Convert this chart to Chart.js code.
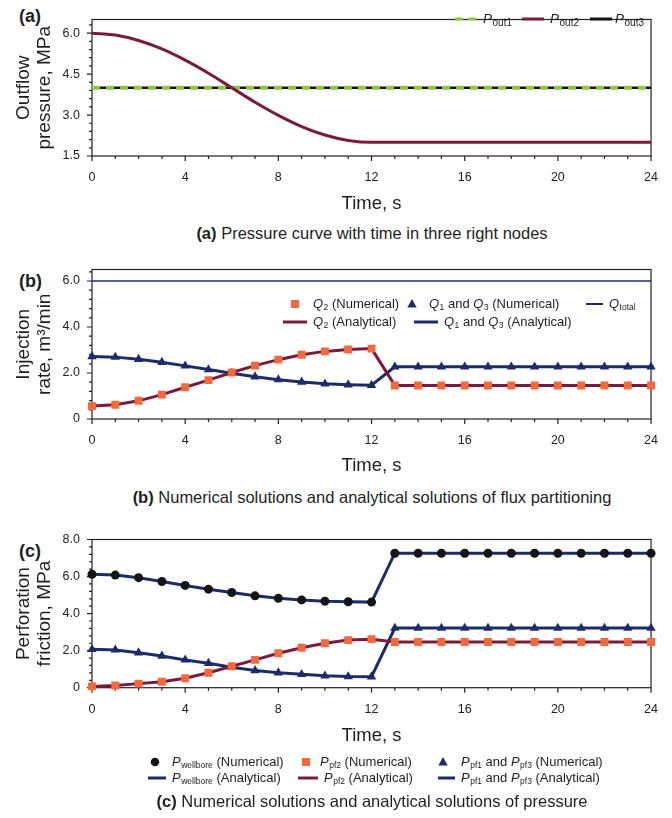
<!DOCTYPE html>
<html>
<head>
<meta charset="utf-8">
<script src="https://cdn.jsdelivr.net/npm/chart.js@4.4.1/dist/chart.umd.min.js"></script>
<style>
  body { margin: 0; background: #fff; }
  #wrap { position: relative; width: 672px; height: 818px; font-family: "Liberation Sans", Arial, sans-serif; color: #1e1e1e; overflow: hidden; }
  canvas { position: absolute; left: 0; }
  .cap { position: absolute; left: 0; width: 744px; text-align: center; font-size: 16.5px; line-height: 20px; white-space: nowrap; }
  .lab { position: absolute; left: 19px; font-size: 18px; font-weight: bold; line-height: 20px; }
</style>
</head>
<body>
<div id="wrap">
  <div class="lab" style="top:6px">(a)</div>
  <div class="lab" style="top:271px">(b)</div>
  <div class="lab" style="top:541px">(c)</div>
  <canvas id="chartA" width="672" height="215" style="top:0px"></canvas>
  <canvas id="chartB" width="672" height="227" style="top:250px"></canvas>
  <canvas id="chartC" width="672" height="287" style="top:520px"></canvas>
  <div class="cap" style="top:223px"><b>(a)</b> Pressure curve with time in three right nodes</div>
  <div class="cap" style="top:487px"><b>(b)</b> Numerical solutions and analytical solutions of flux partitioning</div>
  <div class="cap" style="top:791px"><b>(c)</b> Numerical solutions and analytical solutions of pressure</div>
</div>
<script>
// time axis (s)
const time = [0,1,2,3,4,5,6,7,8,9,10,11,12,13,14,15,16,17,18,19,20,21,22,23,24];

// (a) outflow pressure, MPa
const pOut1 = [4.0,4.0,4.0,4.0,4.0,4.0,4.0,4.0,4.0,4.0,4.0,4.0,4.0,4.0,4.0,4.0,4.0,4.0,4.0,4.0,4.0,4.0,4.0,4.0,4.0];
const pOut2 = [6.00,5.93,5.73,5.42,5.01,4.53,4.00,3.47,2.99,2.58,2.27,2.07,2.00,2.00,2.00,2.00,2.00,2.00,2.00,2.00,2.00,2.00,2.00,2.00,2.00];
const pOut3 = [4.0,4.0,4.0,4.0,4.0,4.0,4.0,4.0,4.0,4.0,4.0,4.0,4.0,4.0,4.0,4.0,4.0,4.0,4.0,4.0,4.0,4.0,4.0,4.0,4.0];

// (b) injection rate, m3/min
const qTotal = [6.0,6.0,6.0,6.0,6.0,6.0,6.0,6.0,6.0,6.0,6.0,6.0,6.0,6.0,6.0,6.0,6.0,6.0,6.0,6.0,6.0,6.0,6.0,6.0,6.0];
const q2 = [0.56,0.62,0.79,1.06,1.38,1.69,2.02,2.32,2.58,2.79,2.94,3.02,3.06,1.46,1.46,1.46,1.46,1.46,1.46,1.46,1.46,1.46,1.46,1.46,1.46];
const q13 = [2.72,2.69,2.60,2.47,2.31,2.15,1.99,1.84,1.71,1.61,1.53,1.49,1.47,2.27,2.27,2.27,2.27,2.27,2.27,2.27,2.27,2.27,2.27,2.27,2.27];

// (c) perforation friction, MPa
const pWell = [6.12,6.08,5.94,5.73,5.52,5.32,5.14,4.96,4.83,4.74,4.67,4.64,4.62,7.26,7.26,7.26,7.26,7.26,7.26,7.26,7.26,7.26,7.26,7.26,7.26];
const pPf2 = [0.07,0.12,0.22,0.32,0.51,0.81,1.16,1.50,1.86,2.16,2.40,2.57,2.62,2.47,2.47,2.47,2.47,2.47,2.47,2.47,2.47,2.47,2.47,2.47,2.47];
const pPf13 = [2.07,2.04,1.89,1.71,1.50,1.32,1.10,0.93,0.81,0.72,0.64,0.60,0.59,3.22,3.22,3.22,3.22,3.22,3.22,3.22,3.22,3.22,3.22,3.22,3.22];

// tick labels
const xTicks = [0,4,8,12,16,20,24];
const yTicksA = [1.5,3.0,4.5,6.0];
const yTicksB = [0,2,4,6];
const yTicksC = [0,2,4,6,8];

const MAROON = '#7c1a3e', NAVY = '#1c2c6b', ORANGE = '#f26a3c', GREEN = '#8cc63f', BLACK = '#151515';
const FONT = '"Liberation Sans", Arial, sans-serif';

const pts = arr => time.map((t, i) => ({x: t, y: arr[i]}));

// frame round the plot plus major/minor ticks
const boxPlugin = {
  id: 'box',
  beforeDatasetsDraw(chart, args, o) {
    const {ctx, chartArea: a, scales: {x, y}} = chart;
    ctx.save();
    ctx.strokeStyle = '#222';
    ctx.lineWidth = 1.2;
    ctx.strokeRect(a.left, a.top, a.right - a.left, a.bottom - a.top);
    ctx.beginPath();
    const nx = Math.round((x.max - x.min) / o.xStep);
    for (let i = 0; i <= nx; i++) {
      const v = x.min + i * o.xStep;
      const px = x.getPixelForValue(v);
      const major = xTicks.some(t => Math.abs(t - v) < 1e-6);
      ctx.moveTo(px, a.bottom);
      ctx.lineTo(px, a.bottom + (major ? 5 : 3));
    }
    const ny = Math.floor((y.max - y.min) / o.yStep + 1e-6);
    for (let i = 0; i <= ny; i++) {
      const v = y.min + i * o.yStep;
      const py = y.getPixelForValue(v);
      const major = o.yMajors.some(t => Math.abs(t - v) < 1e-6);
      ctx.moveTo(a.left, py);
      ctx.lineTo(a.left - (major ? 5 : 3), py);
    }
    ctx.stroke();
    ctx.restore();
  }
};

// legend with italic letters and subscripts
const richLegend = {
  id: 'richLegend',
  afterDraw(chart, args, o) {
    const ctx = chart.ctx;
    const top = o.top || 0;
    const fs = o.size || 13, ss = o.subSize || 8.5;
    ctx.save();
    (o.items || []).forEach(it => {
      const y = it.y - top;
      ctx.fillStyle = it.color;
      ctx.strokeStyle = it.color;
      if (it.marker === 'line' || it.marker === 'dash') {
        ctx.lineWidth = it.lw || 3;
        ctx.setLineDash(it.marker === 'dash' ? [8, 5] : []);
        ctx.beginPath();
        ctx.moveTo(it.mx[0], y);
        ctx.lineTo(it.mx[1], y);
        ctx.stroke();
        ctx.setLineDash([]);
      } else if (it.marker === 'square') {
        ctx.fillRect(it.mx[0] - 4, y - 4, 8, 8);
      } else if (it.marker === 'triangle') {
        ctx.beginPath();
        ctx.moveTo(it.mx[0], y - 5);
        ctx.lineTo(it.mx[0] + 4.7, y + 3.5);
        ctx.lineTo(it.mx[0] - 4.7, y + 3.5);
        ctx.closePath();
        ctx.fill();
      } else if (it.marker === 'circle') {
        ctx.beginPath();
        ctx.arc(it.mx[0], y, 4.3, 0, Math.PI * 2);
        ctx.fill();
      }
      ctx.fillStyle = '#1e1e1e';
      ctx.textBaseline = 'middle';
      let x = it.tx;
      it.text.forEach(([s, st]) => {
        if (st === 's') {
          ctx.font = ss + 'px ' + FONT;
          ctx.fillText(s, x, y + 4);
        } else {
          ctx.font = (st === 'i' ? 'italic ' : '') + fs + 'px ' + FONT;
          ctx.fillText(s, x, y);
        }
        x += ctx.measureText(s).width + (st === 'i' ? 0.5 : 0);
      });
    });
    ctx.restore();
  }
};

function makeChart(id, cfg) {
  const H = cfg.height;
  return new Chart(document.getElementById(id), {
    type: 'line',
    data: { datasets: cfg.datasets },
    options: {
      responsive: false,
      animation: false,
      devicePixelRatio: 1,
      layout: { padding: { left: 0, right: 20, top: cfg.areaTop, bottom: cfg.padBottom || 0 } },
      elements: { line: { borderCapStyle: 'butt', tension: 0 } },
      plugins: {
        legend: { display: false },
        tooltip: { enabled: false },
        box: { xStep: 1, yStep: cfg.yStep, yMajors: cfg.yTicks },
        richLegend: Object.assign({ top: cfg.top, items: cfg.legend }, cfg.legendFont || {})
      },
      scales: {
        x: {
          type: 'linear', min: 0, max: 24,
          grid: { display: false, drawTicks: false },
          border: { display: false },
          afterBuildTicks: s => { s.ticks = xTicks.map(v => ({value: v})); },
          afterFit: s => { s.height = H - (cfg.padBottom || 0) - cfg.areaBottom; },
          ticks: { font: { family: FONT, size: 12.5 }, color: '#222', padding: 14, maxRotation: 0,
                   callback: v => String(v) },
          title: { display: true, text: 'Time, s', color: '#1e1e1e',
                   font: { family: FONT, size: 18.5 }, padding: { top: 0, bottom: 0 } }
        },
        y: {
          type: 'linear', min: cfg.yMin, max: cfg.yMax,
          grid: { display: false, drawTicks: false },
          border: { display: false },
          afterBuildTicks: s => { s.ticks = cfg.yTicks.map(v => ({value: v})); },
          afterFit: s => { s.width = 92; },
          ticks: { font: { family: FONT, size: 12.5 }, color: '#222', padding: 12,
                   callback: v => cfg.fmt(v) },
          title: { display: true, text: cfg.yTitle, color: '#1e1e1e',
                   font: { family: FONT, size: 19, lineHeight: 1.1 }, padding: { top: 13.5, bottom: 0 } }
        }
      }
    },
    plugins: [boxPlugin, richLegend]
  });
}

const lineDs = (label, arr, color, width, order, extra) => Object.assign({
  label, data: pts(arr), borderColor: color, backgroundColor: color, borderWidth: width,
  pointRadius: 0, order, clip: 8
}, extra || {});
const markDs = (label, arr, color, style, radius, order) => ({
  label, data: pts(arr), showLine: false, pointStyle: style, pointRadius: radius,
  pointBackgroundColor: color, pointBorderColor: color, pointBorderWidth: 0,
  backgroundColor: color, borderColor: color, order, clip: 10
});

// (a)
makeChart('chartA', {
  top: 0, height: 215, areaTop: 7.3, areaBottom: 156,
  yMin: 1.5, yMax: 6.5, yStep: 0.3, yTicks: yTicksA,
  fmt: v => v.toFixed(1),
  yTitle: ['Outflow', 'pressure, MPa'],
  datasets: [
    lineDs('P_out2', pOut2, MAROON, 3, 0, { cubicInterpolationMode: 'monotone' }),
    lineDs('P_out1', pOut1, GREEN, 4, 1, { borderDash: [8, 6] }),
    lineDs('P_out3', pOut3, BLACK, 2.6, 2)
  ],
  legendFont: { size: 13.5, subSize: 10 },
  legend: [
    { marker: 'dash', mx: [455, 478], y: 19, color: GREEN, tx: 483, text: [['P','i'],['out1','s']] },
    { marker: 'line', mx: [522, 544], y: 19, color: MAROON, tx: 550, text: [['P','i'],['out2','s']] },
    { marker: 'line', mx: [590, 612], y: 19, color: BLACK, tx: 615, text: [['P','i'],['out3','s']] }
  ]
});

// (b)
makeChart('chartB', {
  top: 250, height: 227, areaTop: 19.5, areaBottom: 419 - 250,
  yMin: 0, yMax: 6.5, yStep: 0.4, yTicks: yTicksB,
  fmt: v => v === 0 ? '0' : v.toFixed(1),
  yTitle: ['Injection', 'rate, m\u00b3/min'],
  datasets: [
    markDs('Q2 (Numerical)', q2, ORANGE, 'rect', 5.6, 0),
    markDs('Q1 and Q3 (Numerical)', q13, NAVY, 'triangle', 5.4, 1),
    lineDs('Q2 (Analytical)', q2, MAROON, 3, 2),
    lineDs('Q1 and Q3 (Analytical)', q13, NAVY, 3, 3),
    lineDs('Qtotal', qTotal, NAVY, 1.6, 4)
  ],
  legend: [
    { marker: 'square', mx: [295], y: 304, color: ORANGE, tx: 313, text: [['Q','i'],['2','s'],[' (Numerical)','']] },
    { marker: 'triangle', mx: [412], y: 304, color: NAVY, tx: 429, text: [['Q','i'],['1','s'],[' and ',''],['Q','i'],['3','s'],[' (Numerical)','']] },
    { marker: 'line', mx: [586, 603], y: 304, color: NAVY, lw: 2, tx: 609, text: [['Q','i'],['total','s']] },
    { marker: 'line', mx: [283, 307], y: 322, color: MAROON, tx: 313, text: [['Q','i'],['2','s'],[' (Analytical)','']] },
    { marker: 'line', mx: [414, 438], y: 322, color: NAVY, tx: 444, text: [['Q','i'],['1','s'],[' and ',''],['Q','i'],['3','s'],[' (Analytical)','']] }
  ]
});

// (c)
makeChart('chartC', {
  top: 520, height: 287, areaTop: 19, areaBottom: 687.7 - 520, padBottom: 60,
  yMin: 0, yMax: 8, yStep: 0.4, yTicks: yTicksC,
  fmt: v => v === 0 ? '0' : v.toFixed(1),
  yTitle: ['Perforation', 'friction, MPa'],
  datasets: [
    markDs('Pwellbore (Numerical)', pWell, BLACK, 'circle', 4.5, 0),
    markDs('Ppf2 (Numerical)', pPf2, ORANGE, 'rect', 5.6, 1),
    markDs('Ppf1 and Ppf3 (Numerical)', pPf13, NAVY, 'triangle', 5.4, 2),
    lineDs('Pwellbore (Analytical)', pWell, NAVY, 3, 3),
    lineDs('Ppf2 (Analytical)', pPf2, MAROON, 3, 4),
    lineDs('Ppf1 and Ppf3 (Analytical)', pPf13, NAVY, 3, 5)
  ],
  legend: [
    { marker: 'circle', mx: [155], y: 762, color: BLACK, tx: 172, text: [['P','i'],['wellbore','s'],[' (Numerical)','']] },
    { marker: 'square', mx: [306], y: 762, color: ORANGE, tx: 320, text: [['P','i'],['pf2','s'],[' (Numerical)','']] },
    { marker: 'triangle', mx: [443], y: 762, color: NAVY, tx: 461, text: [['P','i'],['pf1','s'],[' and ',''],['P','i'],['pf3','s'],[' (Numerical)','']] },
    { marker: 'line', mx: [148, 166], y: 778, color: NAVY, tx: 172, text: [['P','i'],['wellbore','s'],[' (Analytical)','']] },
    { marker: 'line', mx: [298, 318], y: 778, color: MAROON, tx: 324, text: [['P','i'],['pf2','s'],[' (Analytical)','']] },
    { marker: 'line', mx: [438, 455], y: 778, color: NAVY, tx: 461, text: [['P','i'],['pf1','s'],[' and ',''],['P','i'],['pf3','s'],[' (Analytical)','']] }
  ]
});
</script>
</body>
</html>
